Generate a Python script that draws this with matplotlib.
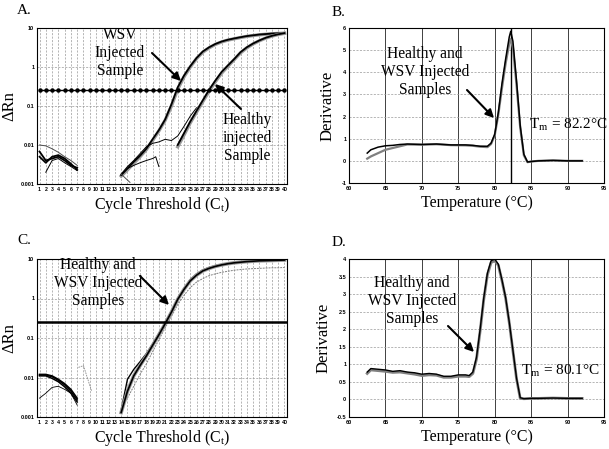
import numpy as np
import matplotlib.pyplot as plt
from matplotlib.patches import FancyArrowPatch

W, H = 609, 449
SERIF = ["Liberation Serif", "DejaVu Serif"]
SANS = ["Liberation Sans", "DejaVu Sans"]

# ---- amplification data (panels A and C) ----
cycles = list(range(1, 41))
early_cycles = [1, 2, 3, 4, 5, 6, 7]
late_cycles = list(range(14, 41))
THRESHOLD = 0.25

a_noise = [
    [0.010, 0.0095, 0.008, 0.0065, 0.005, 0.004, 0.003],
    [0.0068, 0.004, 0.0045, 0.005, 0.004, 0.003, 0.0026],
    [0.005, 0.0035, 0.005, 0.0055, 0.0045, 0.0033, 0.0023],
    [np.nan, 0.002, 0.004, 0.0045, 0.0035, 0.0028, 0.0022],
]
a_wsv = [0.0017, 0.0025, 0.0037, 0.0053, 0.008, 0.014, 0.024, 0.045, 0.11, 0.3,
         0.6, 1.05, 1.7, 2.5, 3.2, 3.9, 4.5, 5.0, 5.4, 5.8, 6.2, 6.5, 6.8, 7.0,
         7.2, 7.3, 7.4]
a_wsv_b = [0.0016, 0.0023, 0.0034, 0.005, 0.0076, 0.013, 0.023, 0.043, 0.1, 0.27,
           0.56, 1.0, 1.65, 2.4, 3.1, 3.8, 4.4, 4.9, 5.3, 5.7, 6.1, 6.4, 6.7, 6.9,
           7.1, 7.25, 7.35]
a_thin_cycles = list(range(14, 27))
a_thin = [0.0018, 0.0028, 0.004, 0.006, 0.009, 0.011, 0.012, 0.014, 0.013, 0.017,
          0.03, 0.055, 0.09]
a_low_cycles = [14, 15, 16, 17, 18, 19, 19.5, 20]
a_low = [0.0017, 0.0025, 0.003, 0.0035, 0.004, 0.0045, 0.005, 0.0028]
a_drop_cycles = [14, 14.7, 15.4]
a_drop = [0.0018, 0.0014, 0.0011]
healthy_cycles = list(range(23, 41))
a_healthy = [0.01, 0.02, 0.04, 0.075, 0.14, 0.26, 0.45, 0.75, 1.1, 1.6, 2.4, 3.2,
             4.0, 4.8, 5.6, 6.3, 6.9, 7.4]
a_healthy_b = [0.009, 0.018, 0.037, 0.07, 0.13, 0.24, 0.42, 0.7, 1.05, 1.55, 2.3,
               3.1, 3.9, 4.7, 5.5, 6.2, 6.8, 7.3]

c_noise = [
    [0.012, 0.012, 0.011, 0.009, 0.007, 0.005, 0.003],
    [0.0115, 0.0115, 0.0105, 0.0085, 0.0065, 0.0045, 0.0027],
    [0.011, 0.011, 0.0095, 0.0078, 0.0058, 0.004, 0.0024],
]
c_noise_low = [0.003, 0.004, 0.0056, 0.006, 0.005, 0.004, 0.002]
c_stray_cycles = [7.2, 8.0, 8.6, 9.3]
c_stray = [0.018, 0.02, 0.01, 0.0045]
c_main = [0.0013, 0.0045, 0.011, 0.02, 0.035, 0.065, 0.12, 0.23, 0.45, 0.95, 1.7,
          2.8, 3.9, 5.0, 5.8, 6.5, 7.1, 7.6, 8.0, 8.3, 8.6, 8.8, 9.0, 9.1, 9.2,
          9.3, 9.4]
c_bump = [0.0015, 0.009, 0.016, 0.025, 0.04, 0.07, 0.13, 0.24, 0.48, 0.95, 1.8,
          3.0, 4.2, 5.3, 6.1, 6.8, 7.3, 7.8, 8.2, 8.5, 8.7, 8.9, 9.1, 9.2, 9.3,
          9.4, 9.5]
c_low = [np.nan, 0.003, 0.006, 0.012, 0.022, 0.045, 0.09, 0.18, 0.35, 0.7, 1.2,
         1.9, 2.6, 3.2, 3.8, 4.2, 4.6, 4.9, 5.2, 5.4, 5.6, 5.7, 5.8, 5.9, 6.0,
         6.0, 6.1]

# ---- melt curve data (panels B and D) ----
b_temp = [62.5, 63, 64, 65, 66, 67, 68, 70, 72, 74, 76, 77, 78, 79, 79.5, 80,
          80.5, 81, 81.5, 82, 82.2, 82.5, 83, 83.5, 84, 84.5, 85, 86, 88, 90, 92]
b_deriv_1 = [0.35, 0.5, 0.62, 0.68, 0.7, 0.74, 0.76, 0.74, 0.76, 0.72, 0.72, 0.7,
             0.66, 0.66, 0.8, 1.2, 2.2, 3.5, 4.6, 5.6, 5.85, 5.4, 3.6, 1.6, 0.3,
             -0.05, -0.03, 0.0, 0.02, 0.0, 0.0]
b_deriv_2 = [0.1, 0.2, 0.35, 0.5, 0.58, 0.66, 0.74, 0.73, 0.75, 0.71, 0.7, 0.68,
             0.64, 0.62, 0.76, 1.15, 2.1, 3.3, 4.4, 5.3, 5.5, 5.1, 3.4, 1.5, 0.25,
             -0.06, -0.03, 0.0, 0.02, 0.0, 0.0]
d_temp = [62.5, 63, 64, 65, 66, 67, 68, 69, 70, 71, 72, 73, 74, 75, 76, 76.5, 77,
          77.5, 78, 78.5, 79, 79.5, 80, 80.5, 81, 81.5, 82, 82.5, 83, 83.5, 84,
          85, 86, 88, 90, 92]
d_deriv_1 = [0.78, 0.88, 0.86, 0.84, 0.8, 0.82, 0.78, 0.76, 0.72, 0.74, 0.72,
             0.66, 0.66, 0.7, 0.7, 0.68, 0.78, 1.2, 2.0, 2.9, 3.6, 3.95, 4.0,
             3.85, 3.4, 2.9, 2.2, 1.4, 0.6, 0.05, 0.02, 0.03, 0.03, 0.04, 0.03,
             0.03]
d_deriv_2 = [0.74, 0.84, 0.82, 0.8, 0.77, 0.78, 0.75, 0.72, 0.68, 0.7, 0.69,
             0.63, 0.63, 0.66, 0.66, 0.65, 0.74, 1.15, 1.95, 2.85, 3.55, 3.9,
             3.95, 3.82, 3.38, 2.88, 2.18, 1.38, 0.58, 0.03, 0.02, 0.03, 0.03,
             0.04, 0.03, 0.03]

LOG_TICKS = [0.001, 0.01, 0.1, 1, 10]
LOG_LABELS = ["0.001", "0.01", "0.1", "1", "10"]
TEMP_TICKS = [60, 65, 70, 75, 80, 85, 90, 95]


def rect(l, t, r, b):
    return [l / W, 1 - b / H, (r - l) / W, (b - t) / H]


def fpos(x, y):
    return (x / W, 1 - y / H)


def style_amp(ax):
    ax.set_yscale("log")
    ax.set_ylim(0.001, 10)
    ax.set_xlim(0.6, 40.4)
    ax.set_xticks(cycles)
    ax.set_xticklabels([str(c) for c in cycles], fontsize=3.8, fontweight="bold",
                       family=SANS)
    ax.set_yticks(LOG_TICKS)
    ax.set_yticklabels(LOG_LABELS, fontsize=4, fontweight="bold", family=SANS)
    ax.minorticks_off()
    ax.tick_params(length=0, pad=2)
    for c in cycles:
        ax.axvline(c, color="0.6", lw=0.5, ls=(0, (3, 2)), zorder=0)
    for v in LOG_TICKS[1:-1]:
        ax.axhline(v, color="0.6", lw=0.5, ls=(0, (3, 2)), zorder=0)
    ax.set_xlabel("Cycle Threshold (C$_\\mathregular{t}$)", fontsize=11.5,
                  family=SERIF, labelpad=2)
    ax.set_ylabel("\u0394Rn", fontsize=12, family=SERIF, labelpad=2)
    for s in ax.spines.values():
        s.set_linewidth(0.8)


def style_melt(ax, ylo, yhi, ystep, ylabels):
    ax.set_xlim(60, 95)
    ax.set_ylim(ylo, yhi)
    ax.set_xticks(TEMP_TICKS)
    ax.set_xticklabels([str(t) for t in TEMP_TICKS], fontsize=4, fontweight="bold",
                       family=SANS)
    yt = np.arange(ylo, yhi + ystep / 2, ystep)
    ax.set_yticks(yt)
    ax.set_yticklabels(ylabels, fontsize=4, fontweight="bold", family=SANS)
    ax.tick_params(length=0, pad=2)
    for t in TEMP_TICKS[1:-1]:
        ax.axvline(t, color="0.25", lw=0.7, zorder=0)
    for v in yt[1:-1]:
        ax.axhline(v, color="0.6", lw=0.5, ls=(0, (3, 2)), zorder=0)
    ax.set_xlabel("Temperature (\u00b0C)", fontsize=11.5, family=SERIF, labelpad=3)
    ax.set_ylabel("Derivative", fontsize=12, family=SERIF, labelpad=4)
    for s in ax.spines.values():
        s.set_linewidth(0.8)


def arrow(fig, start, end):
    fig.add_artist(FancyArrowPatch(
        fpos(*start), fpos(*end), transform=fig.transFigure,
        arrowstyle="-|>", color="k", lw=1.5, mutation_scale=12,
        shrinkA=0, shrinkB=0, zorder=10))


def label(fig, x, y, s, ha="center", size=11.2):
    fig.text(*fpos(x, y), s, ha=ha, va="center", fontsize=size, family=SERIF,
             linespacing=1.15, zorder=10)


fig = plt.figure(figsize=(W / 100, H / 100), dpi=100)
fig.patch.set_facecolor("white")

axA = fig.add_axes(rect(37, 28, 287, 184))
axB = fig.add_axes(rect(349, 28, 604, 183))
axC = fig.add_axes(rect(37, 259, 287, 417))
axD = fig.add_axes(rect(349, 259, 604, 417))

# ---- Panel A ----
style_amp(axA)
for i, n in enumerate(a_noise):
    axA.plot(early_cycles, n, color="k" if i else "0.3", lw=1.3 if i in (1, 2) else 0.7)
axA.plot(late_cycles, a_wsv_b, color="0.6", lw=2.4)
axA.plot(late_cycles, a_wsv, color="k", lw=1.3)
axA.plot(a_thin_cycles, a_thin, color="k", lw=0.7)
axA.plot(a_low_cycles, a_low, color="k", lw=0.7)
axA.plot(a_drop_cycles, a_drop, color="0.3", lw=0.7)
axA.plot(healthy_cycles, a_healthy_b, color="0.6", lw=2.4)
axA.plot(healthy_cycles, a_healthy, color="k", lw=1.3)
axA.plot(cycles, [THRESHOLD] * len(cycles), color="k", lw=1.0, marker="o", ms=2.2)

# ---- Panel C ----
style_amp(axC)
for n in c_noise:
    axC.plot(early_cycles, n, color="k", lw=1.1)
axC.plot(early_cycles, c_noise_low, color="k", lw=0.6)
axC.plot(c_stray_cycles, c_stray, color="0.55", lw=0.6, ls=(0, (2, 1)))
axC.plot(late_cycles, c_low, color="0.5", lw=0.7, ls=(0, (2, 1)))
axC.plot(late_cycles, c_bump, color="k", lw=1.0)
axC.plot(late_cycles, c_main, color="0.6", lw=2.6)
axC.plot(late_cycles, c_main, color="k", lw=1.2)
axC.axhline(THRESHOLD, color="k", lw=1.8)

# ---- Panel B ----
style_melt(axB, -1, 6, 1, [str(v) for v in range(-1, 7)])
axB.axvline(82.2, color="k", lw=1.0, zorder=0)
axB.plot(b_temp, b_deriv_2, color="0.5", lw=1.6)
axB.plot(b_temp, b_deriv_1, color="k", lw=1.1)

# ---- Panel D ----
style_melt(axD, -0.5, 4, 0.5,
           ["-0.5", "0", "0.5", "1", "1.5", "2", "2.5", "3", "3.5", "4"])
axD.plot(d_temp, d_deriv_2, color="0.5", lw=2.0)
axD.plot(d_temp, d_deriv_1, color="k", lw=1.0)

# ---- panel letters ----
for x, y, s in [(17, 11, "A."), (332, 12, "B."), (17, 241, "C."), (332, 242, "D.")]:
    fig.text(*fpos(x, y), s, ha="left", va="center", fontsize=11, family=SERIF)

# ---- annotations ----
label(fig, 120, 53, "WSV\nInjected\nSample")
arrow(fig, (152, 53), (181, 81))
label(fig, 247, 138, "Healthy\ninjected\nSample")
arrow(fig, (241, 109), (215, 84))

label(fig, 425, 72, "Healthy and\nWSV Injected\nSamples")
arrow(fig, (467, 90), (494, 118))
label(fig, 529, 125, "T$_\\mathregular{m}$ = 82.2\u00b0C", ha="left", size=11)

label(fig, 98, 283, "Healthy and\nWSV Injected\nSamples")
arrow(fig, (140, 276), (169, 305))

label(fig, 412, 301, "Healthy and\nWSV Injected\nSamples")
arrow(fig, (448, 326), (474, 352))
label(fig, 521, 371, "T$_\\mathregular{m}$ = 80.1\u00b0C", ha="left", size=11)

fig.savefig("out.png", dpi=100)
